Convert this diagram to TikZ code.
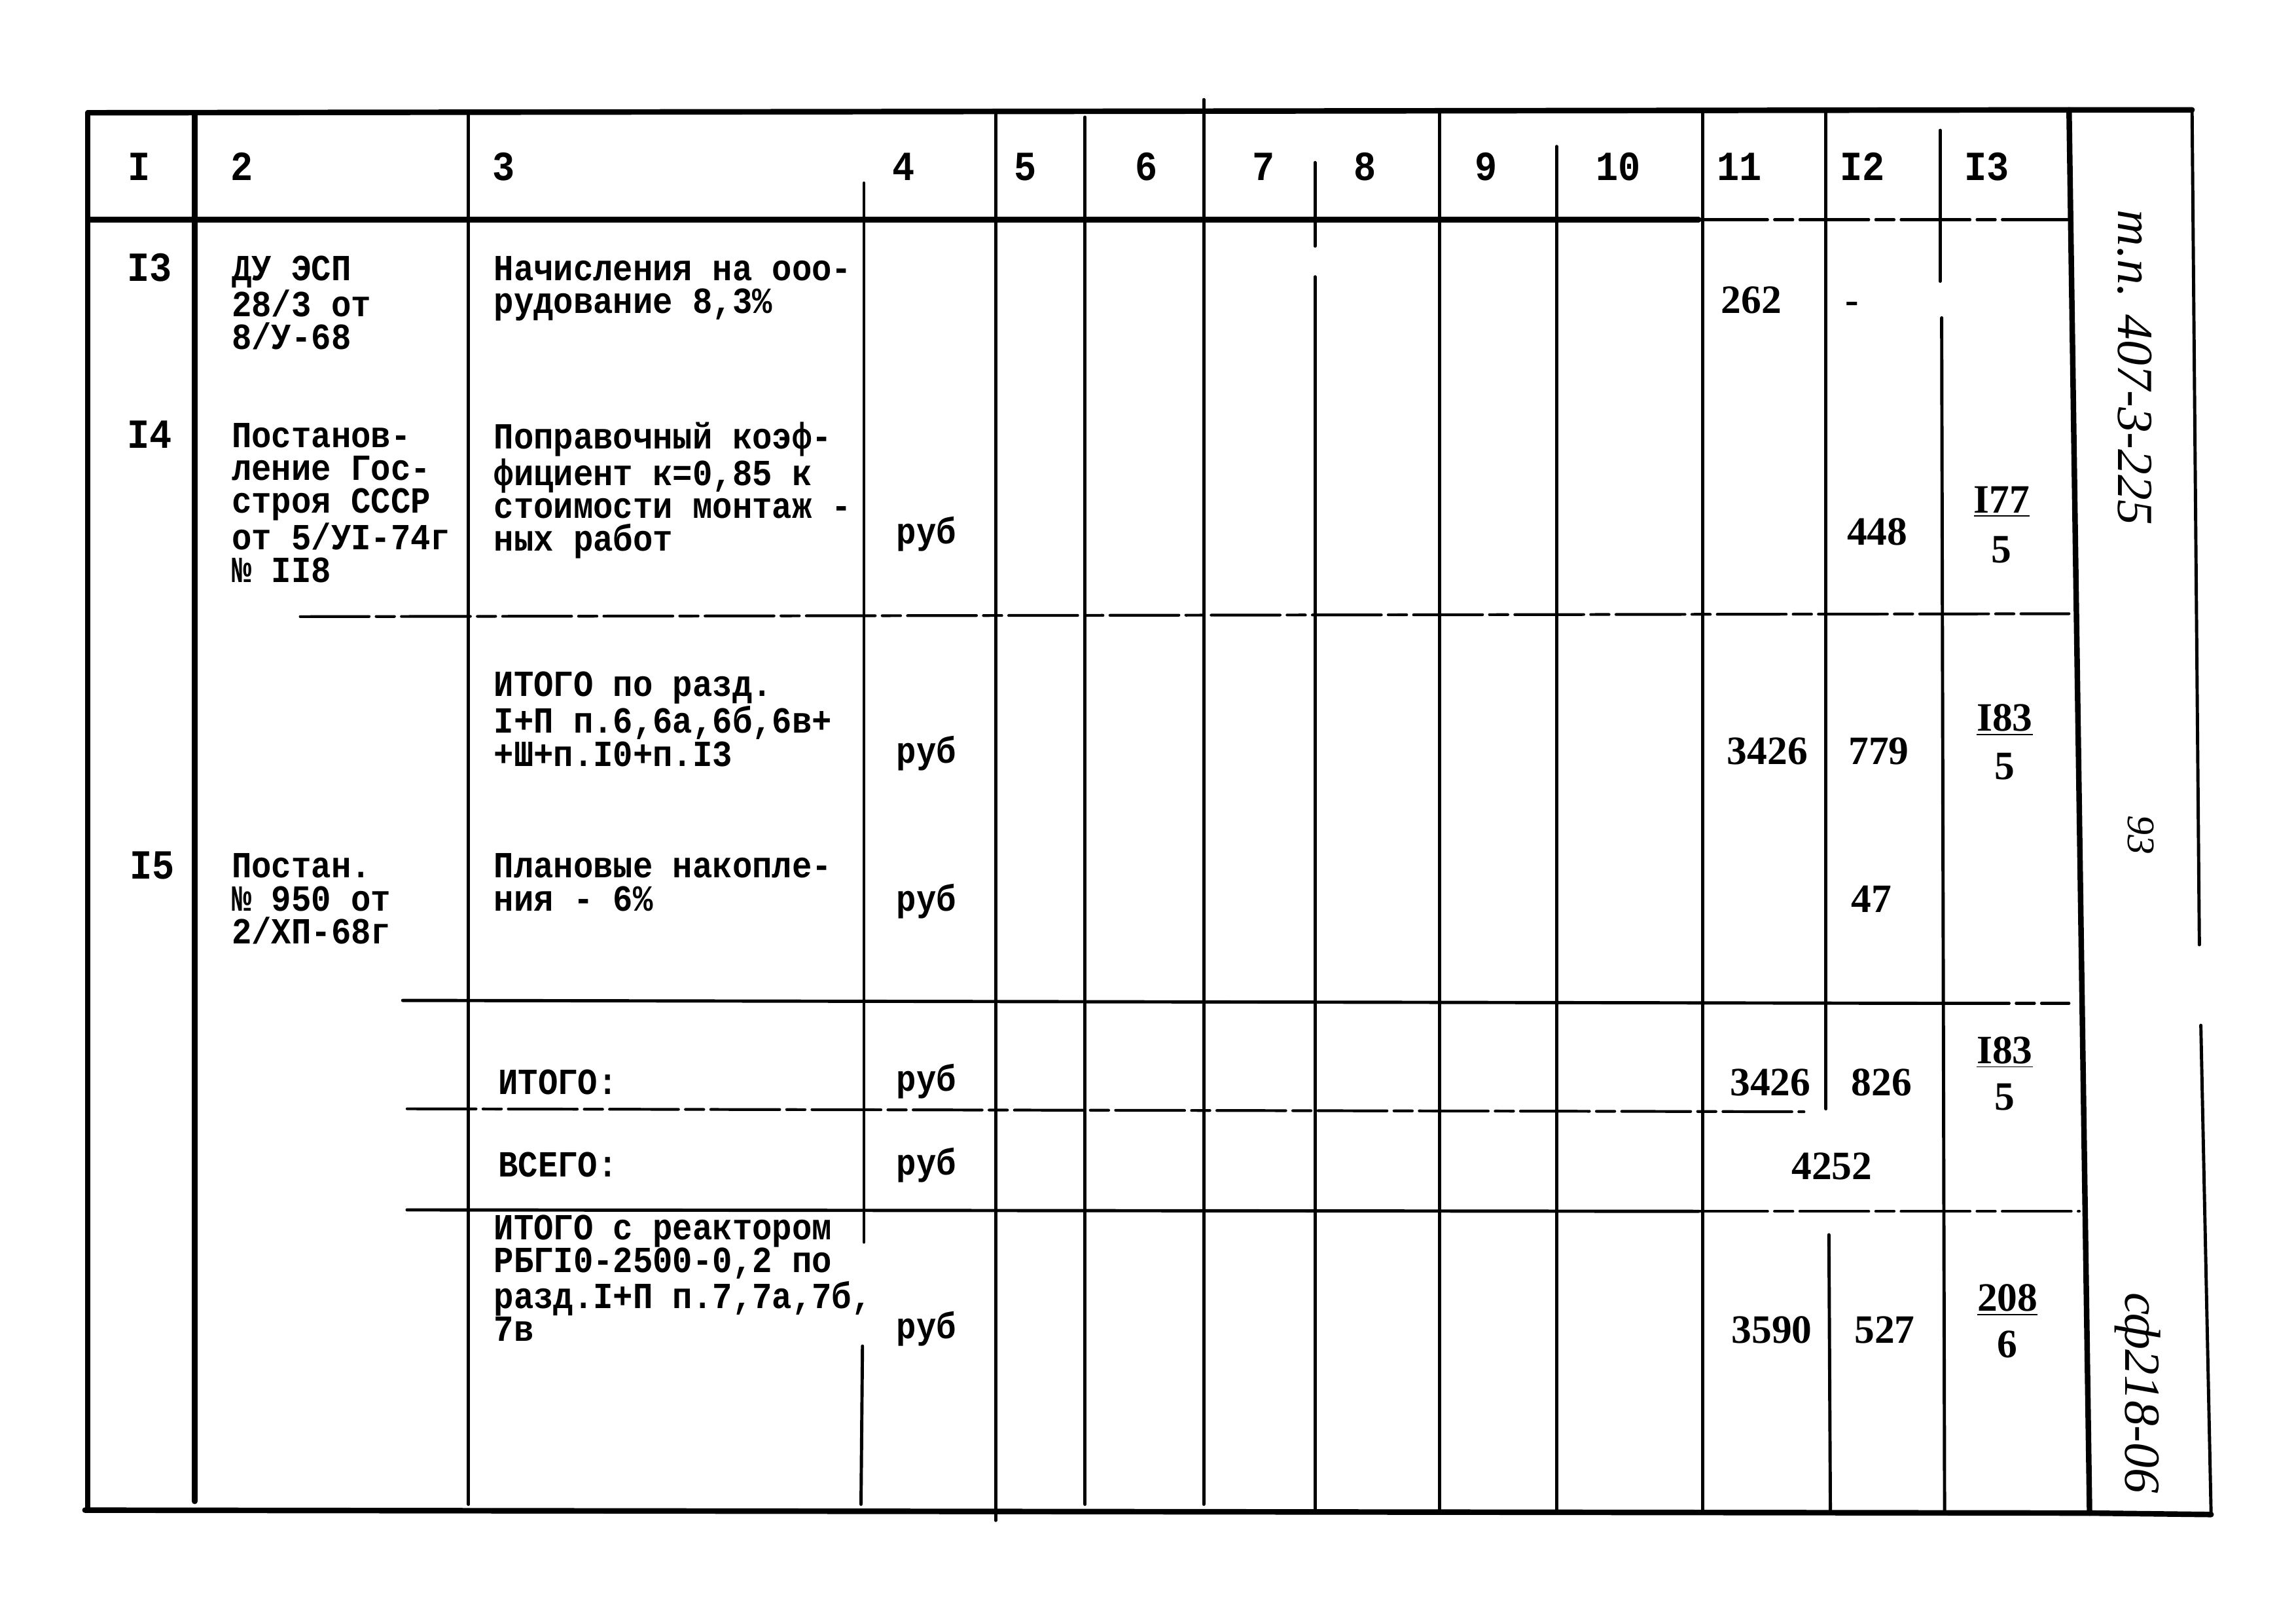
\documentclass[tikz,border=0pt]{standalone}
\usepackage{fontspec}
\newfontfamily\tw{Liberation Mono}[FakeStretch=0.9]
\newfontfamily\sr{Liberation Serif}
\newcommand\twfont{\tw\bfseries\fontsize{16}{14.3}\selectfont}
\newcommand\hdfont{\tw\bfseries\fontsize{18}{18}\selectfont}
\newcommand\numfont{\sr\bfseries\fontsize{17.5}{17}\selectfont}
\newcommand\sidefont{\sr\itshape\fontsize{22}{22}\selectfont}
\newcommand\strt{\rule{0pt}{11pt}}
\begin{document}
\begin{tikzpicture}[x=0.22372mm,y=-0.22372mm,line cap=round,
  frame/.style={line width=2.4pt},
  grid/.style={line width=1.4pt},
  gridd/.style={line width=1.2pt,dash pattern=on 30pt off 3pt on 8pt off 3pt},
  twx/.style={anchor=north west,inner sep=0pt,align=left,font=\twfont,yshift=11pt},
  hdr/.style={anchor=base,inner sep=0pt,font=\hdfont},
  rub/.style={anchor=base west,inner sep=0pt,font=\twfont},
  num/.style={anchor=base,inner sep=0pt,font=\numfont},
  side/.style={rotate=-90,inner sep=0pt,font=\sidefont}]
\useasboundingbox (0,0) rectangle (1568,1108);
\fill[white] (0,0) rectangle (1568,1108);

% outer frame
\draw[frame] (60,77) -- (1413,75) -- (1497,75);
\draw[frame] (60,77) -- (60,1031);
\draw[frame] (58,1031) -- (1427,1033) -- (1510,1034);
\draw[frame] (1413,75) -- (1427,1033);
\draw[grid] (1497,75) -- (1502,645);
\draw[grid] (1503,700) -- (1510,1034);
% header line
\draw[frame] (60,150) -- (1160,150);
\draw[gridd] (1160,150) -- (1413,150);
% verticals
\draw[frame] (133,77) -- (133,1025);
\draw[grid] (320,77) -- (320,1027);
\draw[grid] (590,125) -- (590,848);
\draw[grid] (589,919) -- (588,1027);
\draw[grid] (680,77) -- (680,1038);
\draw[grid] (741,80) -- (741,1027);
\draw[grid] (822,68) -- (822,1027);
\draw[grid] (898,111) -- (898,168);
\draw[grid] (898,189) -- (898,1031);
\draw[grid] (983,77) -- (983,1031);
\draw[grid] (1063,100) -- (1063,1031);
\draw[grid] (1163,77) -- (1163,1031);
\draw[grid] (1247,77) -- (1247,757);
\draw[grid] (1249,843) -- (1250,1031);
\draw[grid] (1325,89) -- (1325,192);
\draw[grid] (1326,217) -- (1328,1031);
% horizontals
\draw[gridd] (205,421) -- (1413,419);
\draw[grid] (275,683) -- (1325,685);
\draw[gridd] (1325,685) -- (1413,685);
\draw[gridd] (278,757) -- (1232,759);
\draw[grid] (278,826) -- (1160,827);
\draw[gridd] (1160,827) -- (1420,827);

% header
\node[hdr] (h1) at (95,123) {I};
\node[hdr] (h2) at (165,123) {2};
\node[hdr] (h3) at (344,123) {3};
\node[hdr] (h4) at (617,123) {4};
\node[hdr] (h5) at (700,123) {5};
\node[hdr] (h6) at (783,123) {6};
\node[hdr] (h7) at (863,123) {7};
\node[hdr] (h8) at (932,123) {8};
\node[hdr] (h9) at (1015,123) {9};
\node[hdr] (h10) at (1105,123) {10};
\node[hdr] (h11) at (1188,123) {11};
\node[hdr] (h12) at (1272,123) {I2};
\node[hdr] (h13) at (1357,123) {I3};

% row numbers
\node[hdr] (n13) at (102,192) {I3};
\node[hdr] (n14) at (102,306) {I4};
\node[hdr] (n15) at (104,600) {I5};

% column 2
\node[twx] (c2a) at (158,191) {\strt ДУ ЭСП\\28/3 от\\8/У-68};
\node[twx] (c2b) at (158,305) {\strt Постанов-\\ление Гос-\\строя СССР\\от 5/УI-74г\\№ II8};
\node[twx] (c2c) at (158,599) {\strt Постан.\\№ 950 от\\2/ХП-68г};

% column 3
\node[twx] (c3a) at (337,191) {\strt Начисления на ооо-\\рудование 8,3\%};
\node[twx] (c3b) at (337,305) {\strt Поправочный коэф-\\фициент к=0,85 к\\стоимости монтаж -\\ных работ};
\node[twx] (c3c) at (337,475) {\strt ИТОГО по разд.\\I+П п.6,6а,6б,6в+\\+Ш+п.I0+п.I3};
\node[twx] (c3d) at (337,599) {\strt Плановые накопле-\\ния - 6\%};
\node[twx] (c3e) at (340,747) {\strt ИТОГО:};
\node[twx] (c3f) at (340,803) {\strt ВСЕГО:};
\node[twx] (c3g) at (337,846) {\strt ИТОГО с реактором\\РБГI0-2500-0,2 по\\разд.I+П п.7,7а,7б,\\7в};

% column 4
\node[rub] (r1) at (612,371) {руб};
\node[rub] (r2) at (612,521) {руб};
\node[rub] (r3) at (612,622) {руб};
\node[rub] (r4) at (612,745) {руб};
\node[rub] (r5) at (612,802) {руб};
\node[rub] (r6) at (612,914) {руб};

% columns 11-13
\node[num] (v1) at (1196,214) {262};
\node[num] (v2) at (1265,214) {-};
\node[num] (v3) at (1282,372) {448};
\node[num] (f1a) at (1367,350) {\underline{I77}};
\node[num] (f1b) at (1367,384) {5};
\node[num] (v4) at (1207,522) {3426};
\node[num] (v5) at (1283,522) {779};
\node[num] (f2a) at (1369,499) {\underline{I83}};
\node[num] (f2b) at (1369,532) {5};
\node[num] (v6) at (1278,623) {47};
\node[num] (v7) at (1209,748) {3426};
\node[num] (v8) at (1285,748) {826};
\node[num] (f3a) at (1369,726) {\underline{I83}};
\node[num] (f3b) at (1369,758) {5};
\node[num] (v9) at (1251,805) {4252};
\node[num] (v10) at (1210,917) {3590};
\node[num] (v11) at (1287,917) {527};
\node[num] (f4a) at (1371,895) {\underline{208}};
\node[num] (f4b) at (1371,927) {6};

% side strip
\node[side] (s1) at (1458,251) {т.п. 407-3-225};
\node[side,font=\sr\itshape\fontsize{17}{17}\selectfont] (s2) at (1462,570) {93};
\node[side] (s3) at (1460,951) {сф218-06};
\end{tikzpicture}
\end{document}
